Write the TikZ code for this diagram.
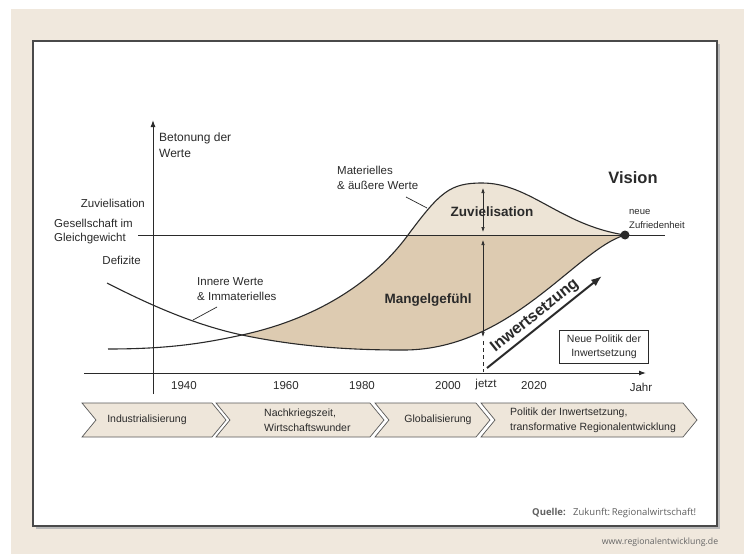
\documentclass[tikz,border=0pt]{standalone}
\usepackage{fontspec}
\setmainfont{Liberation Sans}
\newfontfamily\quellfont{Open Sans}
\usepackage{tikz}
\usetikzlibrary{arrows.meta}

\definecolor{bgbeige}{HTML}{F0E8DD}
\definecolor{mangel}{HTML}{DDCBB1}
\definecolor{zuviel}{HTML}{EDE4D6}
\definecolor{phasefill}{HTML}{EEE6DA}
\definecolor{ink}{HTML}{2A2A2A}

% area between the two value curves, from their crossing to the dot
\newcommand{\wertflaeche}{(242,335) .. controls (320,318) and (375,280) .. (408,235)
  .. controls (440,192) and (450,183) .. (482,183)
  .. controls (530,183) and (560,225) .. (625,235)
  .. controls (575,250) and (510,352) .. (400,350)
  .. controls (340,350) and (290,345) .. (242,335) -- cycle}

\begin{document}
\begin{tikzpicture}[
  x=1pt, y=-1pt,
  font=\fontsize{11.5}{13}\selectfont,
  lbl/.style={inner sep=0pt, text=ink},
  axis/.style={-{Latex[length=7pt,width=5pt]}, line width=1pt, draw=ink},
  curve/.style={line width=1.1pt, draw=ink},
  pointer/.style={line width=0.7pt, draw=ink},
  span/.style={{Latex[length=5pt,width=3.5pt]}-{Latex[length=5pt,width=3.5pt]}, line width=0.6pt, draw=ink},
  phase/.style={draw=gray!70!black, fill=phasefill, line width=0.7pt},
  phasetext/.style={inner sep=0pt, text=ink, align=left, font=\fontsize{10.5}{15}\selectfont},
  big/.style={inner sep=0pt, text=ink, font=\bfseries\fontsize{13.5}{15}\selectfont}
]
\useasboundingbox (0,0) rectangle (744,554);

% background and framed sheet
\fill[bgbeige] (11,9) rectangle (744,554);
\fill[gray!55] (36,44) rectangle (720,529);
\draw[fill=white, draw=ink!85, line width=1.1pt] (33,41) rectangle (717,526);

% shaded areas
\fill[mangel] \wertflaeche;
\begin{scope}
  \clip (0,0) rectangle (744,235);
  \fill[zuviel] \wertflaeche;
\end{scope}

% axes and equilibrium line
\coordinate (yfoot) at (153,394);
\coordinate (ytop) at (153,120);
\coordinate (xstart) at (84,373);
\coordinate (xend) at (646,373);
\coordinate (gleichL) at (138,235);
\coordinate (gleichR) at (665,235);
\draw[axis] (yfoot) -- (ytop);
\draw[axis] (xstart) -- (xend);
\draw[line width=1pt, draw=ink] (gleichL) -- (gleichR);

% value curves
\draw[curve] (108,349) .. controls (170,349) and (205,343) .. (242,335)
  .. controls (320,318) and (375,280) .. (408,235)
  .. controls (440,192) and (450,183) .. (482,183)
  .. controls (530,183) and (560,225) .. (625,235);
\draw[curve] (107,283) .. controls (150,305) and (195,325) .. (242,335)
  .. controls (290,345) and (340,350) .. (400,350)
  .. controls (510,352) and (575,250) .. (625,235);
\node[circle, fill=ink, inner sep=0pt, minimum size=9pt] (ziel) at (625,235) {};

% now marker and the two gaps
\coordinate (jetztO) at (483,341);
\coordinate (jetztU) at (483,372);
\draw[ink, line width=0.7pt, dash pattern=on 4pt off 3pt] (jetztO) -- (jetztU);
\coordinate (zvO) at (483,188);
\coordinate (zvU) at (483,232);
\coordinate (mgO) at (483,240);
\coordinate (mgU) at (483,337);
\draw[span] (zvO) -- (zvU);
\draw[span] (mgO) -- (mgU);

% axis labels
\node[lbl, anchor=west, align=left, font=\fontsize{12}{16}\selectfont] (betonung) at (159,145) {Betonung der\\Werte};
\node[lbl, anchor=east] (zuvl) at (145,203) {Zuvielisation};
\node[lbl, anchor=west, align=left, font=\fontsize{11.5}{13.5}\selectfont] (gleich) at (54,231.5) {Gesellschaft im\\Gleichgewicht};
\node[lbl, anchor=east] (defizit) at (141,260) {Defizite};
\foreach \jahr/\xpos in {1940/184, 1960/286, 1980/362, 2000/448, 2020/534}
  \node[lbl] (j\jahr) at (\xpos,386) {\jahr};
\node[lbl] (jetzt) at (486,385) {jetzt};
\node[lbl] (jahr) at (641,387) {Jahr};

% curve labels
\node[lbl, anchor=west, align=left, font=\fontsize{11.5}{15}\selectfont] (innere) at (197,289.5) {Innere Werte\\\& Immaterielles};
\coordinate (innereA) at (217,307);
\coordinate (innereB) at (193,320);
\draw[pointer] (innereA) -- (innereB);
\node[lbl, anchor=west, align=left, font=\fontsize{11.5}{14.5}\selectfont] (materiell) at (337,178) {Materielles\\\& äußere Werte};
\coordinate (materiellA) at (406,197);
\coordinate (materiellB) at (427,208);
\draw[pointer] (materiellA) -- (materiellB);

\node[big] (zuviel) at (492,212) {Zuvielisation};
\node[big] (mangel) at (428,300) {Mangelgefühl};
\node[lbl, font=\bfseries\fontsize{16.5}{18}\selectfont] (vision) at (633,178) {Vision};
\node[lbl, anchor=west, align=left, font=\fontsize{9.5}{14}\selectfont] (zufrieden) at (629,219) {neue\\Zufriedenheit};

% upgrading arrow and policy box
\coordinate (inwertA) at (487,368);
\coordinate (inwertB) at (602,276);
\draw[draw=ink, line width=2pt, -{Latex[length=11pt,width=8pt]}] (inwertA) -- (inwertB);
\node[lbl, rotate=38.7, font=\bfseries\fontsize{16}{18}\selectfont] (inwert) at (535,316) {Inwertsetzung};
\node[draw=ink, line width=0.8pt, minimum width=89pt, minimum height=33pt, align=center,
  text=ink, font=\fontsize{10.5}{14}\selectfont] (politik) at (604,347) {Neue Politik der\\Inwertsetzung};

% phases
\foreach \a/\b in {82/212, 216/370, 375/476, 481/683}
  \draw[phase] (\a,403) -- (\b,403) -- (\b+14,420) -- (\b,437) -- (\a,437) -- (\a+14,420) -- cycle;
\node[phasetext] (ph1) at (147,420) {Industrialisierung};
\node[phasetext, anchor=west] (ph2) at (264,420) {Nachkriegszeit,\\Wirtschaftswunder};
\node[phasetext] (ph3) at (438,420) {Globalisierung};
\node[phasetext, anchor=west] (ph4) at (510,420) {Politik der Inwertsetzung,\\transformative Regionalentwicklung};

% source
\node[anchor=west, inner sep=0pt, text=gray!75!black, font=\quellfont\bfseries\fontsize{9.5}{10}\selectfont] (quelle) at (532,513) {Quelle:};
\node[anchor=west, inner sep=0pt, text=gray!75!black, font=\quellfont\fontsize{9.5}{10}\selectfont] (zukunft) at (573,513) {Zukunft:\,Regionalwirtschaft!};
\node[inner sep=0pt, text=gray!80!black, font=\quellfont\fontsize{8.7}{10}\selectfont] (www) at (660,542) {www.regionalentwicklung.de};
\end{tikzpicture}
\end{document}
